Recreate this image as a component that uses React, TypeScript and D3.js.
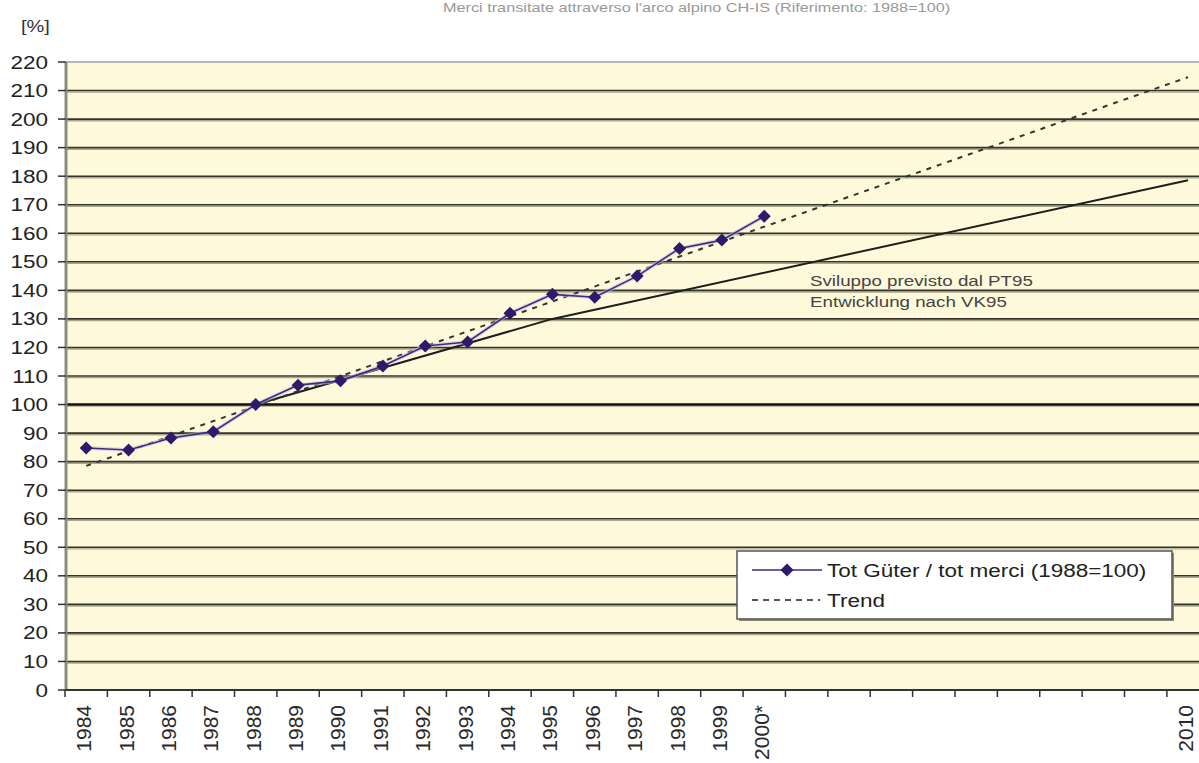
import React from "react";
import * as d3 from "d3";

const categories = ["1984","1985","1986","1987","1988","1989","1990","1991","1992","1993","1994","1995","1996","1997","1998","1999","2000","2001","2002","2003","2004","2005","2006","2007","2008","2009","2010"];
const tickLabels = ["1984","1985","1986","1987","1988","1989","1990","1991","1992","1993","1994","1995","1996","1997","1998","1999","2000*","","","","","","","","","","2010"];
const totYears = ["1984","1985","1986","1987","1988","1989","1990","1991","1992","1993","1994","1995","1996","1997","1998","1999","2000"];
const totValues = [84.8, 84.1, 88.3, 90.5, 100, 106.8, 108.3, 113.5, 120.5, 121.9, 132, 138.6, 137.6, 145, 154.7, 157.6, 166];
const trendYears = ["1984", "2010"];
const trendValues = [78.5, 214.7];
const pt95Years = ["1988", "1995", "2010"];
const pt95Values = [100, 130, 178.6];
const yTicks = [0,10,20,30,40,50,60,70,80,90,100,110,120,130,140,150,160,170,180,190,200,210,220];

const W = 1199, H = 763;
const FONT = "'Liberation Sans', Arial, sans-serif";
const SX = 1.25;

export default function App() {
  const left = 65, bw = 42.38;
  const x = d3.scaleBand<string>().domain(categories).range([left, left + bw * categories.length]).padding(0);
  const cx = (c: string) => (x(c) as number) + x.bandwidth() / 2;
  const y = d3.scaleLinear().domain([0, 220]).range([690, 62]);
  const plotL = 66, plotR = W, plotT = y(220), plotB = y(0);

  const line = d3.line<[string, number]>().x(d => cx(d[0])).y(d => y(d[1]));
  const totPts = totYears.map((c, i) => [c, totValues[i]] as [string, number]);
  const trendPts = trendYears.map((c, i) => [c, trendValues[i]] as [string, number]);
  const pt95Pts = pt95Years.map((c, i) => [c, pt95Values[i]] as [string, number]);

  const diamond = (px: number, py: number, r: number) => `M${px},${py - r}L${px + r},${py}L${px},${py + r}L${px - r},${py}Z`;

  const Stretch = ({ tx, ty, anchor, size, fill, children, weight }: any) => (
    <g transform={`translate(${tx},${ty}) scale(${SX},1)`}>
      <text x={0} y={0} textAnchor={anchor || "start"} fontSize={size} fill={fill || "#222"} fontFamily={FONT} fontWeight={weight || "normal"}>{children}</text>
    </g>
  );

  return (
    <svg width={W} height={H} style={{ position: "absolute", left: 0, top: 0, background: "#fff" }}>
      {/* title */}
      <Stretch tx={443} ty={12} size={13} fill="#999">Merci transitate attraverso l'arco alpino CH-IS (Riferimento: 1988=100)</Stretch>
      <Stretch tx={21} ty={32} size={16} fill="#333">[%]</Stretch>

      {/* plot background */}
      <rect x={plotL} y={plotT} width={plotR - plotL} height={plotB - plotT} fill="#FEF9DA" />
      <line x1={plotL} x2={plotR} y1={plotT} y2={plotT} stroke="#b8b8b0" strokeWidth={2} />

      {/* gridlines */}
      {yTicks.filter(t => t > 0 && t < 220).map(t => (
        <g key={t}>
          <line x1={plotL} x2={plotR} y1={y(t) + 1.6} y2={y(t) + 1.6} stroke="#aaa88c" strokeWidth={1.4} />
          <line x1={plotL} x2={plotR} y1={y(t)} y2={y(t)} stroke={t === 100 ? "#111" : "#33332a"} strokeWidth={t === 100 ? 2.4 : 1.6} />
        </g>
      ))}

      {/* y axis */}
      <line x1={66} x2={66} y1={plotT} y2={plotB} stroke="#8c8c84" strokeWidth={3} />
      {yTicks.map(t => (
        <g key={t}>
          <line x1={58} x2={66} y1={y(t)} y2={y(t)} stroke="#333" strokeWidth={1.5} />
          <Stretch tx={48} ty={y(t) + 6.5} anchor="end" size={18} fill="#222">{t}</Stretch>
        </g>
      ))}

      {/* x axis */}
      <line x1={plotL} x2={plotR} y1={plotB} y2={plotB} stroke="#333" strokeWidth={2} />
      {categories.map((c) => (
        <line key={c} x1={x(c) as number} x2={x(c) as number} y1={plotB} y2={plotB + 7} stroke="#333" strokeWidth={1.5} />
      ))}
      {categories.map((c, i) => tickLabels[i] ? (
        <text key={"l" + c} transform={`translate(${cx(c) + 5},705) rotate(-90)`} textAnchor="end" fontSize={21} fill="#2a2a2a" fontFamily={FONT}>{tickLabels[i]}</text>
      ) : null)}

      {/* PT95 line */}
      <path d={line(pt95Pts) as string} fill="none" stroke="#1e1e1e" strokeWidth={2} />
      {/* trend */}
      <path d={line(trendPts) as string} fill="none" stroke="#333" strokeWidth={2} strokeDasharray="5,6" />
      {/* series */}
      <path d={line(totPts) as string} fill="none" stroke="#c9c3e0" strokeWidth={4} opacity={0.6} />
      <path d={line(totPts) as string} fill="none" stroke="#3d2b80" strokeWidth={1.6} />
      {totPts.map(p => (
        <path key={p[0]} d={diamond(cx(p[0]), y(p[1]), 6.5)} fill="#2e1a6b" />
      ))}

      {/* annotation */}
      <Stretch tx={810} ty={286} size={15} fill="#444">Sviluppo previsto dal PT95</Stretch>
      <Stretch tx={810} ty={307} size={15} fill="#444">Entwicklung nach VK95</Stretch>

      {/* legend */}
      <rect x={739} y={553} width={435} height={68} fill="#8a8a80" />
      <rect x={737} y={551} width={435} height={68} fill="#fff" stroke="#555" strokeWidth={1.5} />
      <line x1={752} x2={822} y1={570} y2={570} stroke="#3d2b80" strokeWidth={1.6} />
      <path d={diamond(787, 570, 6.5)} fill="#2e1a6b" />
      <Stretch tx={827} ty={576.5} size={18} fill="#222">Tot Güter / tot merci (1988=100)</Stretch>
      <line x1={752} x2={820} y1={600} y2={600} stroke="#555" strokeWidth={2} strokeDasharray="6,5" />
      <Stretch tx={827} ty={606.5} size={18} fill="#222">Trend</Stretch>
    </svg>
  );
}
